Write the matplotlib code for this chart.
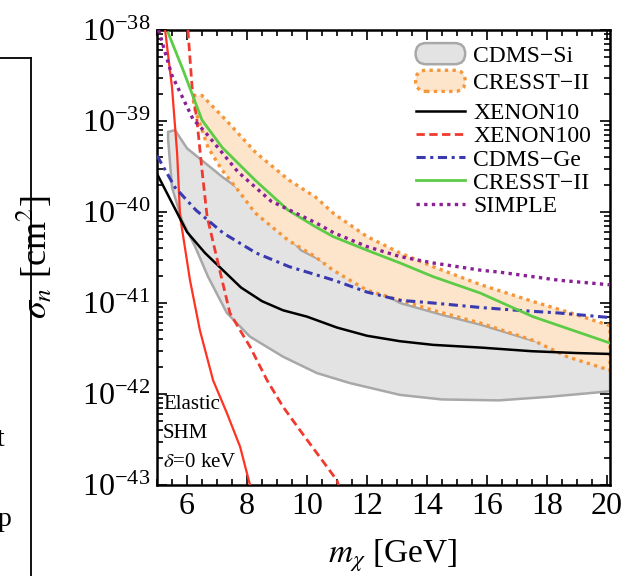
import matplotlib
matplotlib.use("Agg")
import matplotlib.pyplot as plt
import numpy as np
from matplotlib.patches import Patch, FancyBboxPatch
from matplotlib.lines import Line2D
from matplotlib.legend_handler import HandlerPatch
from matplotlib.ticker import MultipleLocator, LogLocator, NullFormatter

plt.rcParams['font.family'] = ['Liberation Serif', 'DejaVu Serif']
plt.rcParams['mathtext.fontset'] = 'stix'

# --- data (mass in GeV, log10 sigma in cm^2) ---
xe10_m = [5.0, 5.5, 6.0, 6.6, 7.2, 7.8, 8.5, 9.2, 10.0, 11.0, 12.0, 13.1, 14.2, 15.8, 17.5, 19.0, 20.1]
xe10_s = [-39.58, -39.90, -40.22, -40.45, -40.64, -40.83, -40.98, -41.08, -41.15, -41.27, -41.36, -41.42,
          -41.46, -41.49, -41.53, -41.55, -41.56]

xe100_m = [6.03, 6.17, 6.33, 6.5, 6.67, 7.17, 7.43, 7.77, 8.1, 8.67, 9.2, 9.77, 10.33, 11.0, 11.05]
xe100_s = [-38.0, -38.63, -38.99, -39.54, -40.05, -40.75, -41.11, -41.30, -41.48, -41.85, -42.14, -42.40,
           -42.65, -42.95, -43.0]

red_m = [5.27, 5.5, 5.67, 5.77, 6.1, 6.43, 6.87, 7.33, 7.77, 8.1]
red_s = [-38.0, -38.63, -39.35, -40.05, -40.75, -41.30, -41.85, -42.21, -42.58, -43.0]

ge_m = [5.0, 5.6, 6.3, 7.2, 8.3, 9.4, 10.9, 12.0, 13.1, 14.2, 15.8, 17.0, 18.4, 20.1]
ge_s = [-39.38, -39.73, -39.98, -40.23, -40.45, -40.60, -40.75, -40.88, -40.97, -41.0, -41.05, -41.08,
        -41.11, -41.16]

cresst_m = [5.37, 5.87, 6.5, 7.17, 8.27, 9.37, 10.27, 10.87, 12.0, 13.1, 14.2, 15.77, 17.53, 20.1]
cresst_s = [-38.03, -38.44, -38.99, -39.29, -39.65, -39.98, -40.16, -40.27, -40.42, -40.56, -40.71, -40.89,
            -41.15, -41.44]

simple_m = [5.05, 5.5, 6.2, 6.6, 7.7, 8.8, 10.3, 10.9, 12.0, 13.1, 14.2, 15.8, 16.4, 18.4, 20.1]
simple_s = [-38.0, -38.5, -38.98, -39.12, -39.56, -39.88, -40.12, -40.23, -40.38, -40.49, -40.56, -40.64,
            -40.66, -40.75, -40.80]

# CRESST-II band
cb_up_m = [6.2, 6.5, 7.3, 8.3, 9.4, 10.3, 10.9, 12.0, 13.1, 14.2, 15.8, 17.5, 19.0, 20.1]
cb_up_s = [-38.72, -38.72, -38.99, -39.35, -39.65, -39.84, -40.02, -40.27, -40.45, -40.60, -40.80, -40.98,
           -41.13, -41.25]
cb_lo_m = [6.2, 6.27, 6.7, 7.17, 7.7, 8.27, 9.37, 10.27, 10.87, 12.0, 13.1, 14.2, 15.77, 17.53, 18.67, 20.1]
cb_lo_s = [-38.75, -38.88, -39.29, -39.54, -39.76, -40.01, -40.31, -40.49, -40.64, -40.86, -40.97, -41.08,
           -41.22, -41.41, -41.59, -41.74]

# CDMS-Si band
sb_up_m = [5.37, 5.6, 6.0, 6.6, 7.2, 7.8, 8.5, 9.2, 9.8, 11.0, 12.0, 13.1, 14.5, 15.8, 17.5, 20.1]
sb_up_s = [-39.12, -39.10, -39.30, -39.46, -39.62, -39.76, -39.98, -40.20, -40.42, -40.62, -40.80, -41.0,
           -41.13, -41.24, -41.41, -41.55]
sb_lo_m = [5.37, 5.5, 5.83, 6.27, 6.7, 7.33, 8.1, 9.2, 10.33, 11.43, 13.1, 14.5, 16.4, 18.1, 20.1]
sb_lo_s = [-39.20, -39.73, -40.09, -40.38, -40.71, -41.11, -41.37, -41.59, -41.77, -41.88, -42.01, -42.06,
           -42.07, -42.03, -41.97]


class RoundHandler(HandlerPatch):
    def create_artists(self, legend, orig_handle, xdescent, ydescent, width, height, fontsize, trans):
        p = FancyBboxPatch((-xdescent, -ydescent), width, height,
                           boxstyle='round,pad=0,rounding_size=%f' % (height / 2),
                           fc=orig_handle.get_facecolor(), ec=orig_handle.get_edgecolor(),
                           lw=orig_handle.get_linewidth(), ls=orig_handle.get_linestyle(),
                           transform=trans)
        return [p]


def p10(a):
    return 10.0 ** np.array(a)


fig = plt.figure(figsize=(6.31, 5.76), dpi=100)
ax = fig.add_axes([157 / 631, 1 - 485 / 576, 453 / 631, 455 / 576])

gray_fc, gray_ec = '#e3e3e3', '#a8a8a8'
org_fc, org_ec = '#fde5cb', '#f5963a'

ax.fill(np.r_[sb_up_m, sb_lo_m[::-1]], p10(np.r_[sb_up_s, sb_lo_s[::-1]]),
        fc=gray_fc, ec=gray_ec, lw=1.8, zorder=1)
ax.fill(np.r_[cb_up_m, cb_lo_m[::-1]], p10(np.r_[cb_up_s, cb_lo_s[::-1]]),
        fc=org_fc, ec=org_ec, lw=2.4, ls=(0, (1, 1.3)), zorder=2)

ax.plot(red_m, p10(red_s), color='#ff3322', lw=1.6, zorder=3)
ax.plot(xe10_m, p10(xe10_s), color='black', lw=1.8, zorder=4)
ax.plot(xe100_m, p10(xe100_s), color='#f03a30', lw=2, ls=(0, (3, 1.6)), zorder=4)
ax.plot(ge_m, p10(ge_s), color='#3a3ab0', lw=2.2, ls=(0, (3, 1.5, 1, 1.5)), zorder=4)
ax.plot(cresst_m, p10(cresst_s), color='#5ccc46', lw=2, zorder=5)
ax.plot(simple_m, p10(simple_s), color='#8a2096', lw=2.4, ls=(0, (1, 1.3)), zorder=5)

ax.set_yscale('log')
ax.set_xlim(5, 20.1)
ax.set_ylim(1e-43, 1e-38)
ax.xaxis.set_major_locator(MultipleLocator(2))
ax.xaxis.set_minor_locator(MultipleLocator(0.5))
ax.yaxis.set_major_locator(LogLocator(base=10, numticks=10))
ax.yaxis.set_minor_locator(LogLocator(base=10, subs=np.arange(2, 10), numticks=20))
ax.yaxis.set_minor_formatter(NullFormatter())
ax.tick_params(which='both', direction='in', top=True, right=True, width=1.2)
ax.tick_params(which='major', length=7, labelsize=23, pad=5)
ax.tick_params(which='minor', length=4)
for s in ax.spines.values():
    s.set_linewidth(1.8)

ax.set_xlabel(r'$m_\chi$ [GeV]', fontsize=24, labelpad=9)
ax.xaxis.set_label_coords(0.52, -0.115)
ax.set_ylabel(r'$\sigma_n$ [cm$^2$]', fontsize=26)
ax.yaxis.set_label_coords(-0.225, 0.50)

ax.text(0.013, 0.176, 'Elastic', transform=ax.transAxes, fontsize=15, va='center')
ax.text(0.013, 0.114, 'SHM', transform=ax.transAxes, fontsize=15, va='center')
ax.text(0.013, 0.05, r'$\delta$=0 keV', transform=ax.transAxes, fontsize=15, va='center')

band_h = [Patch(fc=gray_fc, ec=gray_ec, lw=1.8), Patch(fc=org_fc, ec=org_ec, lw=2.4, ls=(0, (1, 1.3)))]
leg1 = ax.legend(band_h, ['CDMS\u2212Si', 'CRESST\u2212II'], loc='upper left',
                 bbox_to_anchor=(0.55, 0.992), frameon=False, fontsize=17,
                 handlelength=2.1, handleheight=1.0, handletextpad=0.35, labelspacing=0.15,
                 borderaxespad=0, handler_map={Patch: RoundHandler()})
ax.add_artist(leg1)
line_h = [Line2D([], [], color='black', lw=1.8),
          Line2D([], [], color='#f03a30', lw=2, ls=(0, (3, 1.6))),
          Line2D([], [], color='#3a3ab0', lw=2.2, ls=(0, (3, 1.5, 1, 1.5))),
          Line2D([], [], color='#5ccc46', lw=2),
          Line2D([], [], color='#8a2096', lw=2.4, ls=(0, (1, 1.3)))]
ax.legend(line_h, ['XENON10', 'XENON100', 'CDMS\u2212Ge', 'CRESST\u2212II', 'SIMPLE'],
          loc='upper left', bbox_to_anchor=(0.55, 0.861), frameon=False, fontsize=17,
          handlelength=2.1, handletextpad=0.35, labelspacing=0.07, borderaxespad=0)

# fragment of neighbouring panel on the left edge
fig.add_artist(Line2D([0, 31 / 631], [1 - 58 / 576, 1 - 58 / 576], color='black', lw=1.3))
fig.add_artist(Line2D([31 / 631, 31 / 631], [0, 1 - 58 / 576], color='black', lw=1.3))
fig.text(-3 / 631, 1 - 440 / 576, 't', fontsize=20, va='center')
fig.text(-2 / 631, 1 - 520 / 576, 'p', fontsize=20, va='center')

fig.savefig('out.png', dpi=100)
